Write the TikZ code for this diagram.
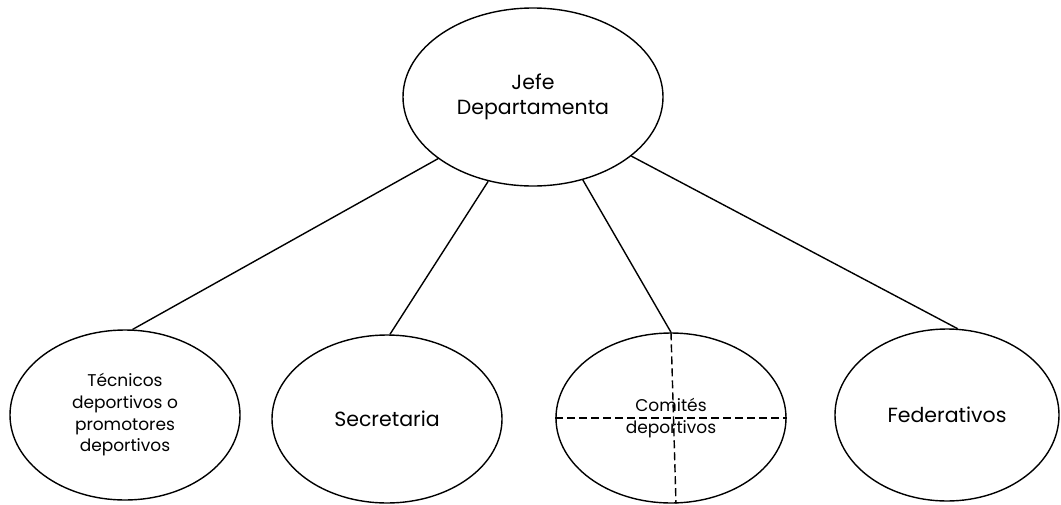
\documentclass[tikz,border=0pt]{standalone}
\usepackage{fontspec}
\setmainfont{Poppins}
\usetikzlibrary{shapes.geometric}

\begin{document}
\begin{tikzpicture}[x=1pt,y=-1pt,
  puesto/.style={draw,ellipse,line width=1.4pt,inner sep=0pt,align=center},
  grande/.style={font=\fontsize{20.5}{25}\selectfont},
  chico/.style={font=\fontsize{17}{21.7}\selectfont},
  enlace/.style={line width=1.4pt}]
\useasboundingbox (0,0) rectangle (1061,504);
\node[puesto,grande,minimum width=260pt,minimum height=178pt] (jefe) at (533,97) {Jefe\\Departamenta};
\node[puesto,chico,minimum width=230pt,minimum height=170pt] (tec) at (125,415) {Técnicos\\deportivos o\\promotores\\deportivos};
\node[puesto,grande,minimum width=230pt,minimum height=168pt] (sec) at (387,419) {Secretaria};
\node[puesto,chico,minimum width=230pt,minimum height=170pt] (com) at (671,418) {Comités\\deportivos};
\node[puesto,grande,minimum width=224pt,minimum height=172pt] (fed) at (947,415) {Federativos};
\draw[enlace] (jefe.213.5) -- (tec.85);
\draw[enlace] (jefe.242) -- (sec.88);
\draw[enlace] (jefe.301) -- (com.90);
\draw[enlace] (jefe.329.6) -- (fed.83);
\draw[enlace,dash pattern=on 8pt off 4pt] (com.north) -- ([xshift=5pt]com.south);
\draw[enlace,dash pattern=on 8pt off 4pt] (com.west) -- (com.east);
\end{tikzpicture}
\end{document}
